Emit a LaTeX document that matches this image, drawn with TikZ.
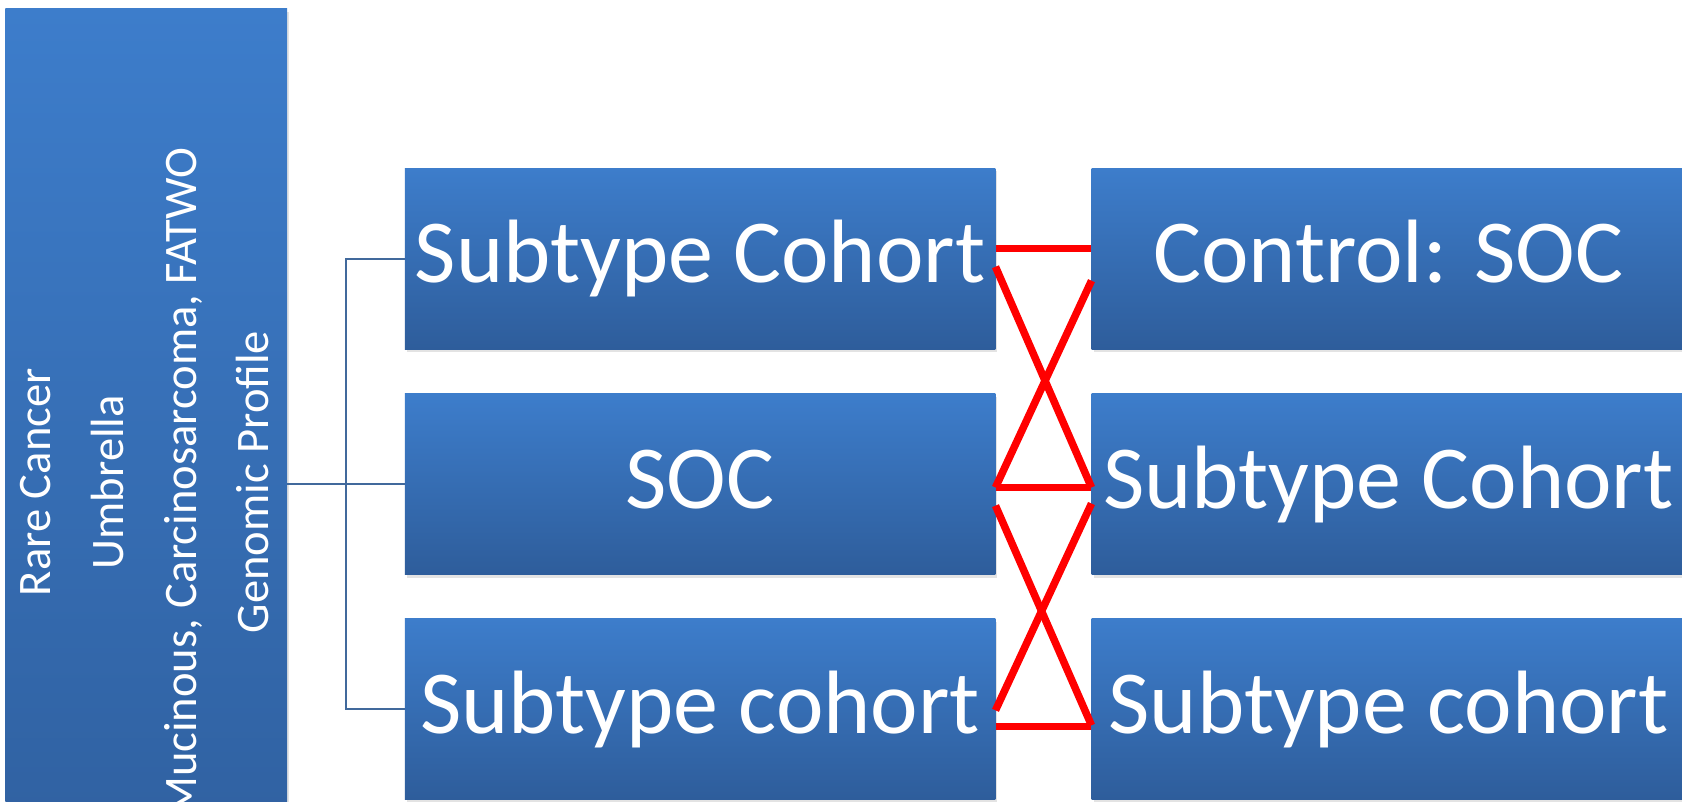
\documentclass[tikz,border=0pt]{standalone}
\usepackage{fontspec}
\setmainfont{Carlito}
\usetikzlibrary{calc,shadows}
\definecolor{btop}{HTML}{3D7DCB}
\definecolor{bbot}{HTML}{2E5D9B}
\definecolor{conncol}{HTML}{41699C}
\begin{document}
\begin{tikzpicture}[x=1pt,y=-1pt,
  box/.style={rectangle, inner sep=0pt, top color=btop, bottom color=bbot, draw=none,
    drop shadow={shadow xshift=2pt, shadow yshift=-3pt, opacity=0.22}},
  midbox/.style={box, minimum width=551pt, minimum height=169pt,
    text=white, font=\fontsize{84}{100}\selectfont, text height=60pt, text depth=15pt},
  rightbox/.style={midbox, minimum width=554pt},
  sidetext/.style={text=white, font=\fontsize{43.5}{68}\selectfont, align=center, rotate=90, inner sep=0pt},
  connline/.style={draw=conncol, line width=1.5pt},
  redline/.style={draw=red, line width=7pt}
]
\useasboundingbox (0,0) rectangle (1570,748);
\clip (0,0) rectangle (1570,748);
\fill[white] (0,0) rectangle (1570,748);

\node[box, minimum width=263pt, minimum height=888pt] (L) at (136.5,452) {};
\node[sidetext] (Lt) at (135,450) {Rare Cancer\\Umbrella\\Mucinous, Carcinosarcoma, FATWO\\Genomic Profile};

\node[midbox] (m1) at (653.5,241.5) {Subtype Cohort};
\node[midbox] (m2) at (653.5,452) {SOC};
\node[midbox] (m3) at (653.5,662) {Subtype cohort};

\node[rightbox] (r1) at (1296,241.5) {Control: SOC};
\node[rightbox] (r2) at (1296,452) {Subtype Cohort};
\node[rightbox] (r3) at (1296,662) {Subtype cohort};

\coordinate (J) at (323,452);
\draw[connline] (L.east) -- (m2.west);
\draw[connline] (m1.west) -| (J) |- (m3.west);

\draw[redline] ($(m1.east)+(0,-9.5)$) -- ($(r1.west)+(0,-9.5)$);
\draw[redline] ($(m1.east)+(0,7.5)$) -- ($(r2.west)+(0,3)$);
\draw[redline] ($(r1.west)+(0,20.5)$) -- ($(m2.east)+(0,3)$);
\draw[redline] ($(m2.east)+(0,3)$) -- ($(r2.west)+(0,3)$);
\draw[redline] ($(m2.east)+(0,20)$) -- ($(r3.west)+(0,15)$);
\draw[redline] ($(r2.west)+(0,18)$) -- ($(m3.east)+(0,1)$);
\draw[redline] ($(m3.east)+(0,16)$) -- ($(r3.west)+(0,16)$);
\end{tikzpicture}
\end{document}
